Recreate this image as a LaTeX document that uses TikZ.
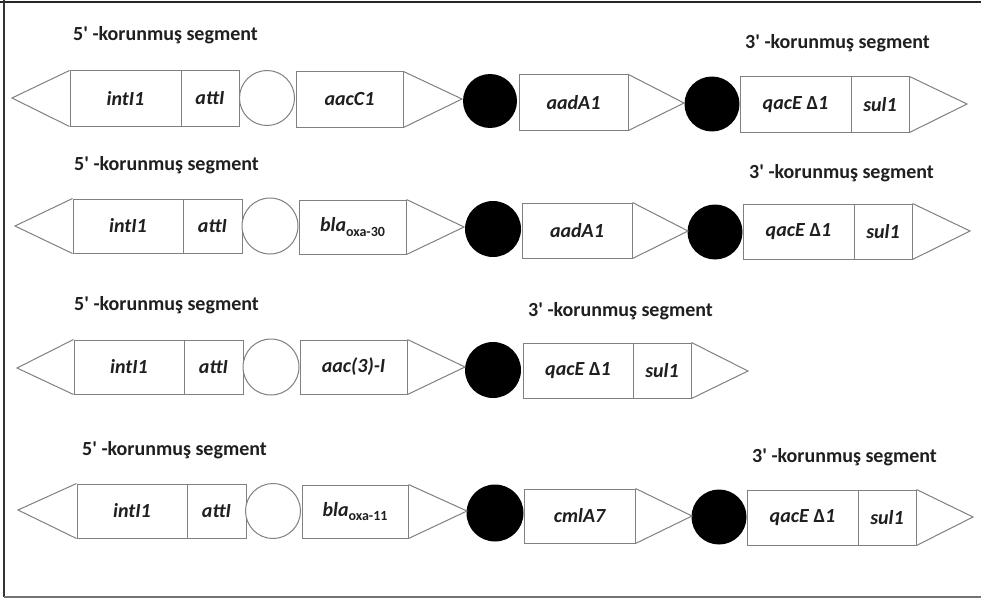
\documentclass[tikz,border=0pt]{standalone}
\usepackage{fontspec}
% a family of its own keeps the straight apostrophe (no TeX ligature mapping)
\newfontfamily\labelfont{Carlito}
\definecolor{boxline}{gray}{0.5}
\definecolor{inktext}{gray}{0.12}
\newcommand\genefont{\labelfont\fontsize{20}{20}\selectfont\bfseries\itshape\color{inktext}}
\newcommand\titlefont{\labelfont\fontsize{20}{20}\selectfont\bfseries\color{inktext}}
\newcommand\subtext[1]{\raisebox{-0.45ex}{\fontsize{14}{14}\selectfont\upshape #1}}
\newcommand\deltasign{\textup{Δ}}
% \genebox{name}{x left}{x right}{y top}{y bottom}{label}
\newcommand\genebox[6]{%
  \node[genebox, minimum width={(#3-#2)*1pt}, minimum height={(#5-#4)*1pt}]
    (#1) at ({(#2+#3)/2},{(#4+#5)/2}) {#6};}
\tikzset{
  genebox/.style={draw=boxline, line width=1pt, rectangle, inner sep=0pt, fill=white, font=\genefont},
  emptysite/.style={draw=boxline, line width=1pt, circle, inner sep=0pt, fill=white},
  fullsite/.style={fill=black, circle, inner sep=0pt},
  tipline/.style={draw=boxline, line width=1pt, line join=miter},
  segtitle/.style={anchor=west, inner sep=0pt, font=\titlefont},
}
\begin{document}
\begin{tikzpicture}[x=1pt, y=-1pt]
\useasboundingbox (0,0) rectangle (981,599);
\fill[white] (0,0) rectangle (981,599);
% frame
\draw[line width=2.5pt, color=black!85] (0,2) -- (981,2);
\draw[line width=2pt, color=black!80] (4,0) -- (4,597);
\draw[line width=1.5pt, color=black!55] (4,597) -- (981,597);

% ---- row 1 ----
\node[segtitle] (t5a) at (73,35) {5' -korunmuş segment};
\node[segtitle] (t3a) at (745,43) {3' -korunmuş segment};
\coordinate (la) at (12,98);
\genebox{inta}{70}{181}{71}{126}{intI1}
\genebox{atta}{181}{239}{71}{126}{attI}
\node[emptysite, minimum size=55pt] (ca) at (267,98) {};
\genebox{aacc}{296}{403}{72}{127}{aacC1}
\coordinate (pa1) at (462,99);
\node[fullsite, minimum size=54pt] (ba1) at (490,101) {};
\genebox{aada}{519}{628}{75}{130}{aadA1}
\coordinate (pa2) at (684,103);
\node[fullsite, minimum size=55pt] (ba2) at (712,104) {};
\genebox{qaca}{740}{851}{77}{132}{qacE \deltasign1}
\genebox{sula}{851}{909}{77}{132}{sul1}
\coordinate (pa3) at (967,104);
\draw[tipline] (inta.north west) -- (la) -- (inta.south west);
\draw[tipline] (aacc.north east) -- (pa1) -- (aacc.south east);
\draw[tipline] (aada.north east) -- (pa2) -- (aada.south east);
\draw[tipline] (sula.north east) -- (pa3) -- (sula.south east);

% ---- row 2 ----
\node[segtitle] (t5b) at (74,165) {5' -korunmuş segment};
\node[segtitle] (t3b) at (749,173) {3' -korunmuş segment};
\coordinate (lb) at (15,226);
\genebox{intb}{73}{183}{199}{253}{intI1}
\genebox{attb}{183}{242}{199}{253}{attI}
\node[emptysite, minimum size=56pt] (cb) at (270,226) {};
\genebox{blab}{299}{406}{200}{254}{bla\subtext{oxa-30}}
\coordinate (pb1) at (464,227);
\node[fullsite, minimum size=56pt] (bb1) at (493,229) {};
\genebox{aadb}{522}{632}{203}{258}{aadA1}
\coordinate (pb2) at (688,231);
\node[fullsite, minimum size=55pt] (bb2) at (715,232) {};
\genebox{qacb}{743}{854}{204}{259}{qacE \deltasign1}
\genebox{sulb}{854}{912}{204}{259}{sul1}
\coordinate (pb3) at (970,231);
\draw[tipline] (intb.north west) -- (lb) -- (intb.south west);
\draw[tipline] (blab.north east) -- (pb1) -- (blab.south east);
\draw[tipline] (aadb.north east) -- (pb2) -- (aadb.south east);
\draw[tipline] (sulb.north east) -- (pb3) -- (sulb.south east);

% ---- row 3 ----
\node[segtitle] (t5c) at (74,305) {5' -korunmuş segment};
\node[segtitle] (t3c) at (528,311) {3' -korunmuş segment};
\coordinate (lc) at (17,368);
\genebox{intc}{74}{184}{340}{394}{intI1}
\genebox{attc}{184}{243}{340}{394}{attI}
\node[emptysite, minimum size=56pt] (cc) at (271,367) {};
\genebox{aacc3}{300}{407}{340}{394}{aac(3)-I}
\coordinate (pc1) at (465,367);
\node[fullsite, minimum size=56pt] (bc1) at (493,370) {};
\genebox{qacc}{523}{633}{343}{398}{qacE \deltasign1}
\genebox{sulc}{633}{691}{343}{398}{sul1}
\coordinate (pc2) at (748,371);
\draw[tipline] (intc.north west) -- (lc) -- (intc.south west);
\draw[tipline] (aacc3.north east) -- (pc1) -- (aacc3.south east);
\draw[tipline] (sulc.north east) -- (pc2) -- (sulc.south east);

% ---- row 4 ----
\node[segtitle] (t5d) at (82,450) {5' -korunmuş segment};
\node[segtitle] (t3d) at (752,457) {3' -korunmuş segment};
\coordinate (ld) at (18,510);
\genebox{intd}{77}{187}{484}{538}{intI1}
\genebox{attd}{187}{246}{484}{538}{attI}
\node[emptysite, minimum size=55pt] (cd) at (273,511) {};
\genebox{blad}{302}{408}{485}{538}{bla\subtext{oxa-11}}
\coordinate (pd1) at (467,511);
\node[fullsite, minimum size=57pt] (bd1) at (495,513) {};
\genebox{cmld}{524}{635}{489}{543}{cmlA7}
\coordinate (pd2) at (692,516);
\node[fullsite, minimum size=55pt] (bd2) at (719,517) {};
\genebox{qacd}{747}{858}{490}{545}{qacE \deltasign1}
\genebox{suld}{858}{916}{490}{545}{sul1}
\coordinate (pd3) at (973,517);
\draw[tipline] (intd.north west) -- (ld) -- (intd.south west);
\draw[tipline] (blad.north east) -- (pd1) -- (blad.south east);
\draw[tipline] (cmld.north east) -- (pd2) -- (cmld.south east);
\draw[tipline] (suld.north east) -- (pd3) -- (suld.south east);
\end{tikzpicture}
\end{document}
